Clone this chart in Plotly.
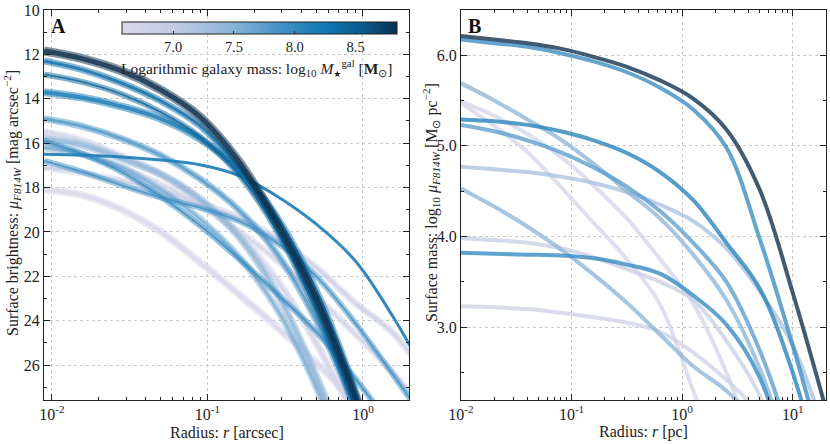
import plotly.graph_objects as go
from plotly.colors import sample_colorscale

# ---------------- data ----------------
# Panel A: radius grid [arcsec] and surface-brightness profiles [mag arcsec^-2]
radius_A = [0.00891, 0.01585, 0.02818, 0.05012, 0.08913, 0.1585, 0.2818, 0.5012, 0.8913, 1.585, 2.818]
mass_A = [8.85, 8.35, 8.45, 8.2, 7.8, 6.7, 7.4, 7.55, 7.9, 7.95, 8.1, 6.8, 6.7, 6.6]
width_A = [9, 7, 6, 8, 7, 8, 8, 7, 6, 6, 3, 7, 7, 8]
profiles_A = [
    [11.85, 12.2, 12.75, 13.6, 14.8, 16.8, 19.6, 23.0, 27.4, 32.5, 38.0],
    [12.3, 12.7, 13.3, 14.1, 15.2, 17.1, 19.8, 23.3, 27.7, 33.0, 38.0],
    [12.9, 13.25, 13.8, 14.6, 15.7, 17.4, 20.0, 23.6, 28.0, 33.0, 38.0],
    [13.7, 13.95, 14.35, 14.9, 15.8, 17.2, 19.4, 22.7, 27.2, 33.0, 38.0],
    [14.9, 15.25, 15.8, 16.55, 17.6, 19.0, 21.0, 24.0, 28.0, 33.0, 38.0],
    [15.5, 15.9, 16.6, 17.4, 18.6, 20.1, 22.2, 25.0, 28.5, 33.0, 38.0],
    [15.8, 16.1, 16.7, 17.4, 18.5, 20.2, 22.8, 26.5, 31.0, 36.0, 40.0],
    [16.2, 16.5, 17.1, 18.1, 19.4, 21.1, 23.5, 27.0, 31.5, 36.0, 40.0],
    [16.8, 17.3, 17.9, 18.45, 18.9, 19.5, 20.5, 22.0, 24.1, 26.5, 29.0],
    [15.9, 16.5, 17.3, 18.4, 19.7, 21.2, 22.8, 24.5, 26.6, 29.0, 32.0],
    [16.5, 16.54, 16.62, 16.76, 16.97, 17.45, 18.4, 19.65, 21.3, 23.9, 27.0],
    [17.1, 17.35, 17.7, 18.2, 18.7, 19.35, 20.3, 21.6, 23.2, 24.6, 27.0],
    [16.1, 16.5, 17.1, 17.85, 18.8, 19.95, 21.3, 22.9, 24.6, 26.4, 28.5],
    [18.1, 18.35, 19.0, 20.0, 21.35, 22.8, 24.3, 25.9, 27.7, 30.0, 32.0],
]

# Panel B: radius grid [pc] and log10 surface mass density [Msun pc^-2]
radius_B = [0.01, 0.01995, 0.03981, 0.07943, 0.1585, 0.3162, 0.631, 1.259, 2.512, 5.012, 10.0, 19.95]
mass_B = [8.85, 7.95, 8.1, 7.45, 6.65, 7.75, 7.2, 7.45, 6.85, 8.0, 6.75, 6.6]
profiles_B = [
    [6.21, 6.17, 6.13, 6.07, 5.98, 5.87, 5.72, 5.52, 5.18, 4.52, 3.38, 2.10],
    [6.17, 6.13, 6.09, 6.02, 5.93, 5.81, 5.64, 5.40, 4.98, 3.98, 2.80, 1.50],
    [5.29, 5.27, 5.23, 5.16, 5.06, 4.92, 4.71, 4.40, 3.93, 3.43, 2.50, 1.20],
    [5.69, 5.50, 5.29, 5.07, 4.80, 4.50, 4.20, 3.80, 3.30, 2.55, 1.50],
    [5.49, 5.33, 5.13, 4.88, 4.56, 4.20, 3.75, 3.26, 2.50, 1.50],
    [5.23, 5.16, 5.06, 4.93, 4.76, 4.55, 4.28, 3.93, 3.50, 2.75, 1.70],
    [4.77, 4.74, 4.71, 4.66, 4.59, 4.49, 4.35, 4.17, 3.87, 3.40, 2.80, 1.80],
    [4.53, 4.33, 4.11, 3.86, 3.58, 3.27, 2.92, 2.57, 2.30, 1.90],
    [3.98, 3.96, 3.93, 3.87, 3.77, 3.64, 3.50, 3.30, 2.85, 2.25, 1.20],
    [3.82, 3.81, 3.80, 3.79, 3.76, 3.69, 3.59, 3.35, 3.03, 2.45, 1.30],
    [3.23, 3.22, 3.20, 3.16, 3.11, 3.05, 2.95, 2.72, 2.42, 2.05, 1.50],
    [5.47, 5.22, 4.93, 4.55, 4.15, 3.75, 3.25, 2.30, 1.30],
]

cbar_ticks = [7.0, 7.5, 8.0, 8.5]
cmin, cmax = 6.58, 8.84

# ---------------- style ----------------
FONT = "Liberation Serif"
CS = [[0.0, '#dad8eb'], [0.2, '#bfcae3'], [0.4, '#8ab4d7'], [0.6, '#3a8dc3'],
      [0.75, '#0f76b1'], [0.88, '#0a5a8c'], [1.0, '#0b2e4b']]


def mcol(m):
    t = (m - cmin) / (cmax - cmin)
    t = min(max(t, 0.0), 1.0)
    return sample_colorscale(CS, [t])[0]


W, H = 830, 444
ML, MR, MT, MB = 44, 4, 10, 44
PW, PH = W - ML - MR, H - MT - MB


def px(xp):
    return (xp - ML) / PW


def py(yp):
    return (H - MB - yp) / PH


fig = go.Figure()

orderA = sorted(range(len(profiles_A)), key=lambda i: mass_A[i])
for i in orderA:
    c = mcol(mass_A[i])
    w = width_A[i]
    fig.add_trace(go.Scatter(
        x=radius_A, y=profiles_A[i], mode='lines',
        line=dict(color=c, width=w, shape='spline', smoothing=1.0),
        opacity=0.5 if w > 3 else 0.95, xaxis='x', yaxis='y',
        showlegend=False, hoverinfo='skip'))
    if w > 3:
        fig.add_trace(go.Scatter(
            x=radius_A, y=profiles_A[i], mode='lines',
            line=dict(color=c, width=w - 4, shape='spline', smoothing=1.0),
            opacity=0.75, xaxis='x', yaxis='y', showlegend=False, hoverinfo='skip'))

orderB = sorted(range(len(profiles_B)), key=lambda i: mass_B[i])
for i in orderB:
    vals = profiles_B[i]
    fig.add_trace(go.Scatter(
        x=radius_B[:len(vals)], y=vals, mode='lines',
        line=dict(color=mcol(mass_B[i]), width=4, shape='spline', smoothing=1.0),
        opacity=0.78, xaxis='x2', yaxis='y2', showlegend=False, hoverinfo='skip'))

# colorbar carrier (points lie outside the visible range)
fig.add_trace(go.Scatter(
    x=[1e-5, 1e-5], y=[40, 40], mode='markers', xaxis='x', yaxis='y',
    marker=dict(color=[cmin, cmax], colorscale=CS, cmin=cmin, cmax=cmax, size=1,
                showscale=True,
                colorbar=dict(orientation='h', x=px((122 + 397) / 2), xanchor='center',
                              y=py(22), yanchor='top', len=275 / PW, lenmode='fraction',
                              thickness=12, thicknessmode='pixels', outlinewidth=1,
                              outlinecolor='#222', tickvals=cbar_ticks,
                              ticktext=['%.1f' % v for v in cbar_ticks],
                              ticks='inside', ticklen=3, tickcolor='#333',
                              tickfont=dict(size=14.5, family=FONT, color='#222'),
                              xpad=0, ypad=0)),
    showlegend=False, hoverinfo='skip'))

axis_common = dict(showline=True, linecolor='#222', linewidth=1, mirror='ticks',
                   ticks='inside', ticklen=6, tickcolor='#222', tickwidth=1,
                   showgrid=True, gridcolor='#c8c8c8', griddash='dot', gridwidth=1,
                   zeroline=False, automargin=False,
                   tickfont=dict(size=16, family=FONT, color='#222'))

minorA = [m * 10 ** e for e in (-3, -2, -1, 0) for m in range(2, 10)]
minorA = [v for v in minorA if 0.0089 < v < 2.0]
minorB = [m * 10 ** e for e in (-2, -1, 0, 1) for m in range(2, 10)]
minorB = [v for v in minorB if 0.01 < v < 20.0]

fig.update_layout(
    width=W, height=H, margin=dict(l=ML, r=MR, t=MT, b=MB, pad=0),
    paper_bgcolor='white', plot_bgcolor='white',
    font=dict(family=FONT, color='#222'),
    xaxis=dict(axis_common, type='log', domain=[px(44), px(409)], anchor='y',
               range=[-2.051, 0.296], tickvals=[0.01, 0.1, 1.0],
               ticktext=['10<sup>-2</sup>', '10<sup>-1</sup>', '10<sup>0</sup>'],
               minor=dict(tickvals=minorA, ticks='inside', ticklen=3, tickcolor='#222',
                          showgrid=False)),
    yaxis=dict(axis_common, domain=[0, 1], anchor='x',
               range=[27.57, 10], tickvals=[10, 12, 14, 16, 18, 20, 22, 24, 26],
               minor=dict(dtick=1, ticks='inside', ticklen=3, tickcolor='#222',
                          showgrid=False)),
    xaxis2=dict(axis_common, type='log', domain=[px(461), px(826)], anchor='y2',
                range=[-2.0, 1.301], tickvals=[0.01, 0.1, 1.0, 10.0],
                ticktext=['10<sup>-2</sup>', '10<sup>-1</sup>', '10<sup>0</sup>', '10<sup>1</sup>'],
                minor=dict(tickvals=minorB, ticks='inside', ticklen=3, tickcolor='#222',
                           showgrid=False)),
    yaxis2=dict(axis_common, domain=[0, 1], anchor='x2',
                range=[2.198, 6.496], tickvals=[3.0, 4.0, 5.0, 6.0],
                ticktext=['3.0', '4.0', '5.0', '6.0'],
                minor=dict(tickvals=[2.5, 3.5, 4.5, 5.5, 6.5], ticks='inside', ticklen=3,
                           tickcolor='#222', showgrid=False)),
)

STAR = '<span style="font-family:DejaVu Sans;font-size:9px">★</span>'
ann = [
    dict(text='<b>A</b>', x=px(49), y=py(13), xanchor='left', yanchor='top',
         font=dict(size=20, family=FONT, color='#111')),
    dict(text='<b>B</b>', x=px(466), y=py(13), xanchor='left', yanchor='top',
         font=dict(size=20, family=FONT, color='#111')),
    dict(text='Logarithmic galaxy mass: log<sub>10</sub> <i>M</i><sub>' + STAR +
              '</sub><sup>gal</sup> [<b>M</b><sub>⊙</sub>]',
         x=px(257), y=py(68), xanchor='center', yanchor='middle',
         font=dict(size=15.5, family=FONT, color='#222')),
    dict(text='Radius: <i>r</i> [arcsec]', x=px(227), y=py(432), xanchor='center',
         yanchor='middle', font=dict(size=16, family=FONT, color='#222')),
    dict(text='Radius: <i>r</i> [pc]', x=px(643), y=py(432), xanchor='center',
         yanchor='middle', font=dict(size=16, family=FONT, color='#222')),
    dict(text='Surface brightness: <i>μ</i><sub><i>F814W</i></sub> [mag arcsec<sup>−2</sup>]',
         x=px(12), y=py(203), xanchor='center', yanchor='middle', textangle=-90,
         font=dict(size=16, family=FONT, color='#222')),
    dict(text='Surface mass: log<sub>10</sub> <i>μ</i><sub><i>F814W</i></sub> [M<sub>⊙</sub> pc<sup>−2</sup>]',
         x=px(431), y=py(203), xanchor='center', yanchor='middle', textangle=-90,
         font=dict(size=16, family=FONT, color='#222')),
]
for a in ann:
    a.update(xref='paper', yref='paper', showarrow=False)
fig.update_layout(annotations=ann)

fig.write_html("out.html", config={'displayModeBar': False},
               post_script="document.body.style.margin='0px';document.body.style.padding='0px';")
